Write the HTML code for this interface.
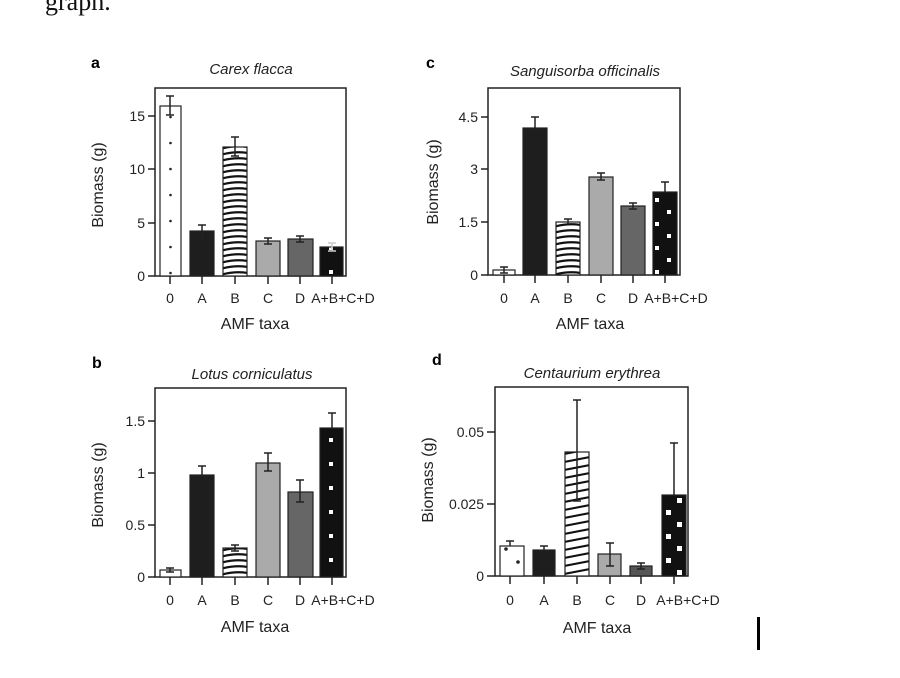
<!DOCTYPE html>
<html><head><meta charset="utf-8"><style>
html,body{margin:0;padding:0;background:#fff;}
svg{display:block;font-family:"Liberation Sans",Arial,sans-serif;}
</style></head><body>
<svg width="900" height="678" viewBox="0 0 900 678" xmlns="http://www.w3.org/2000/svg">
<defs>
<pattern id="stA" x="223" y="0" width="24" height="6" patternUnits="userSpaceOnUse">
<rect width="24" height="6" fill="#fff"/><path d="M-1 4.5 Q12 1 25 3" stroke="#111" stroke-width="2.2" fill="none"/></pattern>
<pattern id="stC" x="556" y="0" width="24" height="6" patternUnits="userSpaceOnUse">
<rect width="24" height="6" fill="#fff"/><path d="M-1 4.5 Q12 1 25 3" stroke="#111" stroke-width="2.2" fill="none"/></pattern>
<pattern id="stB" x="223" y="0" width="24" height="6" patternUnits="userSpaceOnUse">
<rect width="24" height="6" fill="#fff"/><path d="M-1 4.5 Q12 1 25 3" stroke="#111" stroke-width="2.2" fill="none"/></pattern>
<pattern id="stD" x="565" y="0" width="24" height="8" patternUnits="userSpaceOnUse">
<rect width="24" height="8" fill="#fff"/><path d="M-1 6 L25 1" stroke="#111" stroke-width="2.2" fill="none"/></pattern>
<pattern id="dotA" x="160" y="0" width="21" height="26" patternUnits="userSpaceOnUse">
<rect width="21" height="26" fill="#fff"/><circle cx="10.5" cy="13" r="1.3" fill="#222"/></pattern>
<pattern id="sqA" x="320" y="0" width="23" height="24" patternUnits="userSpaceOnUse">
<rect width="23" height="24" fill="#111"/><rect x="9" y="6" width="4" height="4" fill="#fff"/></pattern>
<pattern id="sqC" x="653" y="0" width="24" height="24" patternUnits="userSpaceOnUse">
<rect width="24" height="24" fill="#111"/><rect x="2" y="6" width="4" height="4" fill="#fff"/><rect x="14" y="18" width="4" height="4" fill="#fff"/></pattern>
<pattern id="sqB" x="320" y="0" width="23" height="24" patternUnits="userSpaceOnUse">
<rect width="23" height="24" fill="#111"/><rect x="9" y="6" width="4" height="4" fill="#fff"/></pattern>
<pattern id="sqD" x="662" y="0" width="24" height="24" patternUnits="userSpaceOnUse">
<rect width="24" height="24" fill="#111"/><rect x="4" y="6" width="5" height="5" fill="#fff"/><rect x="15" y="18" width="5" height="5" fill="#fff"/></pattern>
</defs>
<text x="45" y="10" font-family="Liberation Serif,serif" font-size="26" fill="#111">graph.</text>

<!-- Panel a -->
<text x="91" y="68" font-size="16" font-weight="bold">a</text>
<text x="251" y="74" font-size="15" font-style="italic" text-anchor="middle" fill="#222">Carex flacca</text>
<g stroke="#222" stroke-width="1.5" fill="none">
<rect x="155" y="88" width="191" height="188"/>
<line x1="148" y1="276" x2="155" y2="276"/><line x1="148" y1="223" x2="155" y2="223"/><line x1="148" y1="169" x2="155" y2="169"/><line x1="148" y1="116" x2="155" y2="116"/>
<line x1="170" y1="276" x2="170" y2="284"/><line x1="202" y1="276" x2="202" y2="284"/><line x1="235" y1="276" x2="235" y2="284"/><line x1="268" y1="276" x2="268" y2="284"/><line x1="300" y1="276" x2="300" y2="284"/><line x1="332" y1="276" x2="332" y2="284"/>
</g>
<g stroke="#222" stroke-width="1.2">
<rect x="160" y="106" width="21" height="170" fill="url(#dotA)"/>
<rect x="190" y="231" width="24" height="45" fill="#1e1e1e"/>
<rect x="223" y="147" width="24" height="129" fill="url(#stA)"/>
<rect x="256" y="241" width="24" height="35" fill="#aaa"/>
<rect x="288" y="239" width="25" height="37" fill="#666"/>
<rect x="320" y="247" width="23" height="29" fill="url(#sqA)"/>
</g>
<g stroke="#222" stroke-width="1.5" fill="none">
<path d="M170 96V115M166 96H174M166 115H174"/>
<path d="M202 225V238M198 225H206"/>
<path d="M235 137V156M231 137H239M231 156H239"/>
<path d="M268 238V244M264 238H272M264 244H272"/>
<path d="M300 236V242M296 236H304M296 242H304"/>
<path d="M332 243V251M328 243H336M328 251H336" stroke="#ccc"/>
</g>
<g font-size="14" fill="#222" text-anchor="end">
<text x="145" y="281">0</text><text x="145" y="228">5</text><text x="145" y="174">10</text><text x="145" y="121">15</text>
</g>
<g font-size="14" fill="#222" text-anchor="middle">
<text x="170" y="303">0</text><text x="202" y="303">A</text><text x="235" y="303">B</text><text x="268" y="303">C</text><text x="300" y="303">D</text><text x="343" y="303">A+B+C+D</text>
</g>
<text x="255" y="329" font-size="16" text-anchor="middle" fill="#222">AMF taxa</text>
<text transform="translate(103,185) rotate(-90)" font-size="16" text-anchor="middle" fill="#222">Biomass (g)</text>

<!-- Panel c -->
<text x="426" y="68" font-size="16" font-weight="bold">c</text>
<text x="585" y="76" font-size="15" font-style="italic" text-anchor="middle" fill="#222">Sanguisorba officinalis</text>
<g stroke="#222" stroke-width="1.5" fill="none">
<rect x="488" y="88" width="192" height="187"/>
<line x1="481" y1="275" x2="488" y2="275"/><line x1="481" y1="222" x2="488" y2="222"/><line x1="481" y1="169" x2="488" y2="169"/><line x1="481" y1="117" x2="488" y2="117"/>
<line x1="504" y1="275" x2="504" y2="283"/><line x1="535" y1="275" x2="535" y2="283"/><line x1="568" y1="275" x2="568" y2="283"/><line x1="601" y1="275" x2="601" y2="283"/><line x1="633" y1="275" x2="633" y2="283"/><line x1="665" y1="275" x2="665" y2="283"/>
</g>
<g stroke="#222" stroke-width="1.2">
<rect x="493" y="270" width="22" height="5" fill="#fff"/>
<rect x="523" y="128" width="24" height="147" fill="#1e1e1e"/>
<rect x="556" y="222" width="24" height="53" fill="url(#stC)"/>
<rect x="589" y="177" width="24" height="98" fill="#aaa"/>
<rect x="621" y="206" width="24" height="69" fill="#666"/>
<rect x="653" y="192" width="24" height="83" fill="url(#sqC)"/>
</g>
<g stroke="#222" stroke-width="1.5" fill="none">
<path d="M504 267V273M500 267H508M500 273H508"/>
<path d="M535 117V128M531 117H539"/>
<path d="M568 219V224M564 219H572"/>
<path d="M601 173V180M597 173H605M597 180H605"/>
<path d="M633 203V209M629 203H637M629 209H637"/>
<path d="M665 182V192M661 182H669"/>
</g>
<g font-size="14" fill="#222" text-anchor="end">
<text x="478" y="280">0</text><text x="478" y="227">1.5</text><text x="478" y="174">3</text><text x="478" y="122">4.5</text>
</g>
<g font-size="14" fill="#222" text-anchor="middle">
<text x="504" y="303">0</text><text x="535" y="303">A</text><text x="568" y="303">B</text><text x="601" y="303">C</text><text x="633" y="303">D</text><text x="676" y="303">A+B+C+D</text>
</g>
<text x="590" y="329" font-size="16" text-anchor="middle" fill="#222">AMF taxa</text>
<text transform="translate(438,182) rotate(-90)" font-size="16" text-anchor="middle" fill="#222">Biomass (g)</text>

<!-- Panel b -->
<text x="92" y="368" font-size="16" font-weight="bold">b</text>
<text x="252" y="379" font-size="15" font-style="italic" text-anchor="middle" fill="#222">Lotus corniculatus</text>
<g stroke="#222" stroke-width="1.5" fill="none">
<rect x="155" y="388" width="191" height="189"/>
<line x1="148" y1="577" x2="155" y2="577"/><line x1="148" y1="525" x2="155" y2="525"/><line x1="148" y1="473" x2="155" y2="473"/><line x1="148" y1="421" x2="155" y2="421"/>
<line x1="170" y1="577" x2="170" y2="585"/><line x1="202" y1="577" x2="202" y2="585"/><line x1="235" y1="577" x2="235" y2="585"/><line x1="268" y1="577" x2="268" y2="585"/><line x1="300" y1="577" x2="300" y2="585"/><line x1="332" y1="577" x2="332" y2="585"/>
</g>
<g stroke="#222" stroke-width="1.2">
<rect x="160" y="570" width="21" height="7" fill="#fff"/>
<rect x="190" y="475" width="24" height="102" fill="#1e1e1e"/>
<rect x="223" y="548" width="24" height="29" fill="url(#stB)"/>
<rect x="256" y="463" width="24" height="114" fill="#aaa"/>
<rect x="288" y="492" width="25" height="85" fill="#666"/>
<rect x="320" y="428" width="23" height="149" fill="url(#sqB)"/>
</g>
<g stroke="#222" stroke-width="1.5" fill="none">
<path d="M170 568V572M166 568H174M166 572H174"/>
<path d="M202 466V475M198 466H206"/>
<path d="M235 545V551M231 545H239M231 551H239"/>
<path d="M268 453V471M264 453H272M264 471H272"/>
<path d="M300 480V502M296 480H304M296 502H304"/>
<path d="M332 413V428M328 413H336"/>
</g>
<g font-size="14" fill="#222" text-anchor="end">
<text x="145" y="582">0</text><text x="145" y="530">0.5</text><text x="145" y="478">1</text><text x="145" y="426">1.5</text>
</g>
<g font-size="14" fill="#222" text-anchor="middle">
<text x="170" y="605">0</text><text x="202" y="605">A</text><text x="235" y="605">B</text><text x="268" y="605">C</text><text x="300" y="605">D</text><text x="343" y="605">A+B+C+D</text>
</g>
<text x="255" y="632" font-size="16" text-anchor="middle" fill="#222">AMF taxa</text>
<text transform="translate(103,485) rotate(-90)" font-size="16" text-anchor="middle" fill="#222">Biomass (g)</text>

<!-- Panel d -->
<text x="432" y="365" font-size="16" font-weight="bold">d</text>
<text x="592" y="378" font-size="15" font-style="italic" text-anchor="middle" fill="#222">Centaurium erythrea</text>
<g stroke="#222" stroke-width="1.5" fill="none">
<rect x="495" y="387" width="193" height="189"/>
<line x1="487" y1="576" x2="495" y2="576"/><line x1="487" y1="504" x2="495" y2="504"/><line x1="487" y1="432" x2="495" y2="432"/>
<line x1="510" y1="576" x2="510" y2="584"/><line x1="544" y1="576" x2="544" y2="584"/><line x1="577" y1="576" x2="577" y2="584"/><line x1="610" y1="576" x2="610" y2="584"/><line x1="641" y1="576" x2="641" y2="584"/><line x1="674" y1="576" x2="674" y2="584"/>
</g>
<g stroke="#222" stroke-width="1.2">
<rect x="500" y="546" width="24" height="30" fill="#fff"/>
<circle cx="518" cy="562" r="1.2" fill="#222"/><circle cx="506" cy="549" r="1.2" fill="#222"/>
<rect x="533" y="550" width="22" height="26" fill="#1e1e1e"/>
<rect x="565" y="452" width="24" height="124" fill="url(#stD)"/>
<rect x="598" y="554" width="23" height="22" fill="#aaa"/>
<rect x="630" y="566" width="22" height="10" fill="#555"/>
<rect x="662" y="495" width="24" height="81" fill="url(#sqD)"/>
</g>
<g stroke="#222" stroke-width="1.5" fill="none">
<path d="M510 541V546M506 541H514"/>
<path d="M544 546V550M540 546H548"/>
<path d="M577 400V501M573 400H581M573 501H581"/>
<path d="M610 543V566M606 543H614M606 566H614"/>
<path d="M641 563V569M637 563H645M637 569H645"/>
<path d="M674 443V495M670 443H678"/>
</g>
<g font-size="14" fill="#222" text-anchor="end">
<text x="484" y="581">0</text><text x="484" y="509">0.025</text><text x="484" y="437">0.05</text>
</g>
<g font-size="14" fill="#222" text-anchor="middle">
<text x="510" y="605">0</text><text x="544" y="605">A</text><text x="577" y="605">B</text><text x="610" y="605">C</text><text x="641" y="605">D</text><text x="688" y="605">A+B+C+D</text>
</g>
<text x="597" y="633" font-size="16" text-anchor="middle" fill="#222">AMF taxa</text>
<text transform="translate(433,480) rotate(-90)" font-size="16" text-anchor="middle" fill="#222">Biomass (g)</text>

<rect x="757" y="617" width="3" height="33" fill="#000"/>
</svg>
</body></html>
